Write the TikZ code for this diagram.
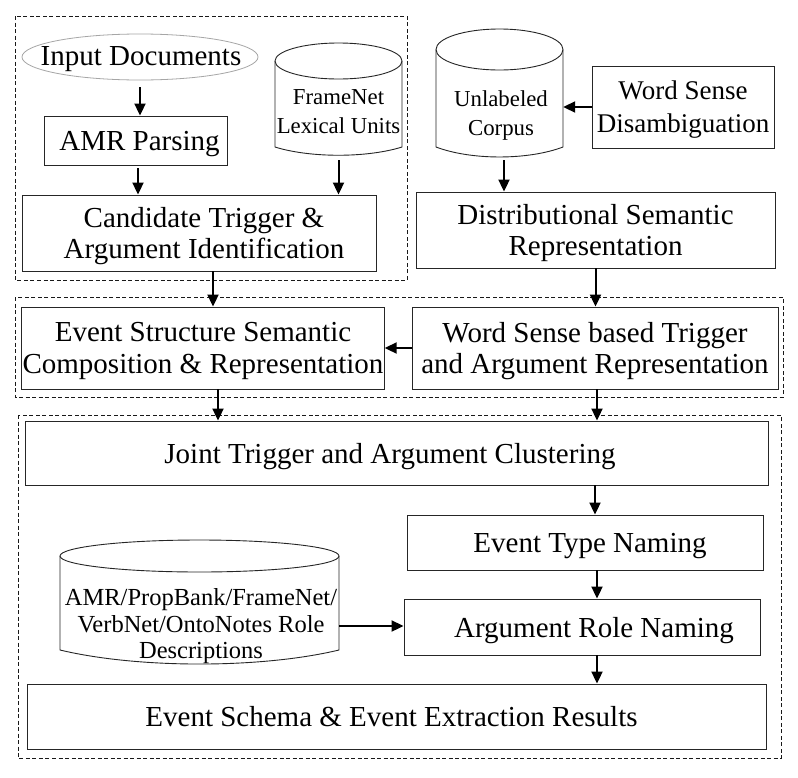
\documentclass[tikz,border=0pt]{standalone}
\usepackage{fontspec}
\setmainfont{Liberation Serif}
\usetikzlibrary{arrows.meta,shapes.geometric}
\begin{document}
\begin{tikzpicture}[x=1pt,y=-1pt,
 box/.style={draw=black!85, line width=0.9pt, inner sep=0pt, align=center, text depth=0pt, font=\fontsize{29}{31.5}\selectfont},
 grp/.style={draw=black!90, line width=0.8pt, dash pattern=on 4pt off 2.5pt},
 arr/.style={line width=2pt, -{Triangle[length=12pt,width=11pt]}},
 cyl/.style={draw=black!85, line width=0.9pt},
 anchorbox/.style={inner sep=0pt, draw=none},
 small/.style={align=center, inner sep=0pt, font=\fontsize{22.8}{28.5}\selectfont}]

\useasboundingbox[fill=white] (0,0) rectangle (798,777);

% dashed groups
\draw[grp] (15,16) rectangle (407,280);
\draw[grp] (15,297) rectangle (783,397);
\draw[grp] (18,415) rectangle (781,758);

% top-left group
\draw[draw=black!35, line width=0.8pt] (140,57) ellipse [x radius=118, y radius=23];
\node[anchorbox, minimum width=236, minimum height=46] (input) at (140,57) {};
\node[inner sep=0pt, font=\fontsize{29}{31.5}\selectfont] (inputtext) at (141,59) {Input Documents};
\node[box, minimum width=183, minimum height=49] (amr) at (135.5,140.5) {\hspace*{8pt}AMR Parsing};
\node[box, minimum width=354, minimum height=76] (cand) at (199,233) {\hspace*{10pt}Candidate Trigger \&\\\hspace*{10pt}Argument Identification};

% FrameNet cylinder
\draw[cyl] (338.5,61) ellipse [x radius=63.5, y radius=18];
\draw[cyl] (275,61) -- (275,147) .. controls (310,158) and (367,158) .. (402,147) -- (402,61);
\node[anchorbox, minimum width=127, minimum height=112] (fn) at (338.5,99) {};
\node[small] (fntext) at (338.5,111.5) {FrameNet\\Lexical Units};

% Unlabeled corpus cylinder
\draw[cyl] (499.5,49.5) ellipse [x radius=63.5, y radius=20.5];
\draw[cyl] (436,49.5) -- (436,147) .. controls (471,160.3) and (528,160.3) .. (563,147) -- (563,49.5);
\node[anchorbox, minimum width=127, minimum height=128] (uc) at (499.5,93) {};
\node[small] (uctext) at (501,115.5) {Unlabeled\\Corpus};

\node[box, minimum width=182, minimum height=82, font=\fontsize{27}{33}\selectfont] (wsd) at (683,107) {Word Sense\\Disambiguation};
\node[box, minimum width=359, minimum height=76] (dist) at (595.5,230) {Distributional Semantic\\Representation};

% middle group
\node[box, minimum width=362.5, minimum height=82] (es) at (203,348) {Event Structure Semantic\\Composition \& Representation};
\node[box, minimum width=366, minimum height=82] (wsb) at (595,348) {Word Sense based Trigger\\and Argument Representation};

% bottom group
\node[box, minimum width=743.5, minimum height=64] (joint) at (397,453) {Joint Trigger and Argument Clustering\hspace*{14pt}};
\node[box, minimum width=356, minimum height=55] (et) at (585,542.5) {\hspace*{10pt}Event Type Naming};
\node[box, minimum width=356, minimum height=56] (arn) at (582,627) {\hspace*{24pt}Argument Role Naming};
\node[box, minimum width=739, minimum height=65] (schema) at (396.5,716.5) {Event Schema \& Event Extraction Results\hspace*{10pt}};

% AMR/PropBank cylinder
\draw[cyl] (199.5,556) ellipse [x radius=139.5, y radius=16];
\draw[cyl] (60,556) -- (60,650) .. controls (138,668.7) and (261,668.7) .. (339,650) -- (339,556);
\node[anchorbox, minimum width=279, minimum height=124] (ac) at (199.5,602) {};
\node[align=center, inner sep=0pt, font=\fontsize{24.5}{26.5}\selectfont] (actext) at (201,626.5) {AMR/PropBank/FrameNet/\\VerbNet/OntoNotes Role\\Descriptions};

% connectors
\draw[arr] ([yshift=-7pt]input.south) -- (input.south |- amr.north);
\draw[arr] ([xshift=2.5pt,yshift=-3pt]amr.south) -- ([xshift=2.5pt]amr.south |- cand.north);
\draw[arr] ([yshift=-5pt]fn.south) -- (fn.south |- cand.north);
\draw[arr] ([xshift=14pt]cand.south) -- ([xshift=14pt]cand.south |- es.north);
\draw[arr] ([xshift=4.5pt,yshift=-3pt]uc.south) -- ([xshift=4.5pt]uc.south |- dist.north);
\draw[arr] (wsd.west) -- (wsd.west -| uc.east);
\draw[arr] (dist.south) -- (dist.south |- wsb.north);
\draw[arr] (wsb.west) -- (es.east);
\draw[arr] ([xshift=15pt]es.south) -- ([xshift=15pt]es.south |- joint.north);
\draw[arr] ([xshift=2pt]wsb.south) -- ([xshift=2pt]wsb.south |- joint.north);
\draw[arr] ([xshift=198pt]joint.south) -- ([xshift=198pt]joint.south |- et.north);
\draw[arr] ([xshift=12pt]et.south) -- ([xshift=12pt]et.south |- arn.north);
\draw[arr] ([yshift=-24pt]ac.east) -- ([yshift=-24pt]ac.east -| arn.west);
\draw[arr] ([xshift=15pt]arn.south) -- ([xshift=15pt]arn.south |- schema.north);
\end{tikzpicture}
\end{document}
